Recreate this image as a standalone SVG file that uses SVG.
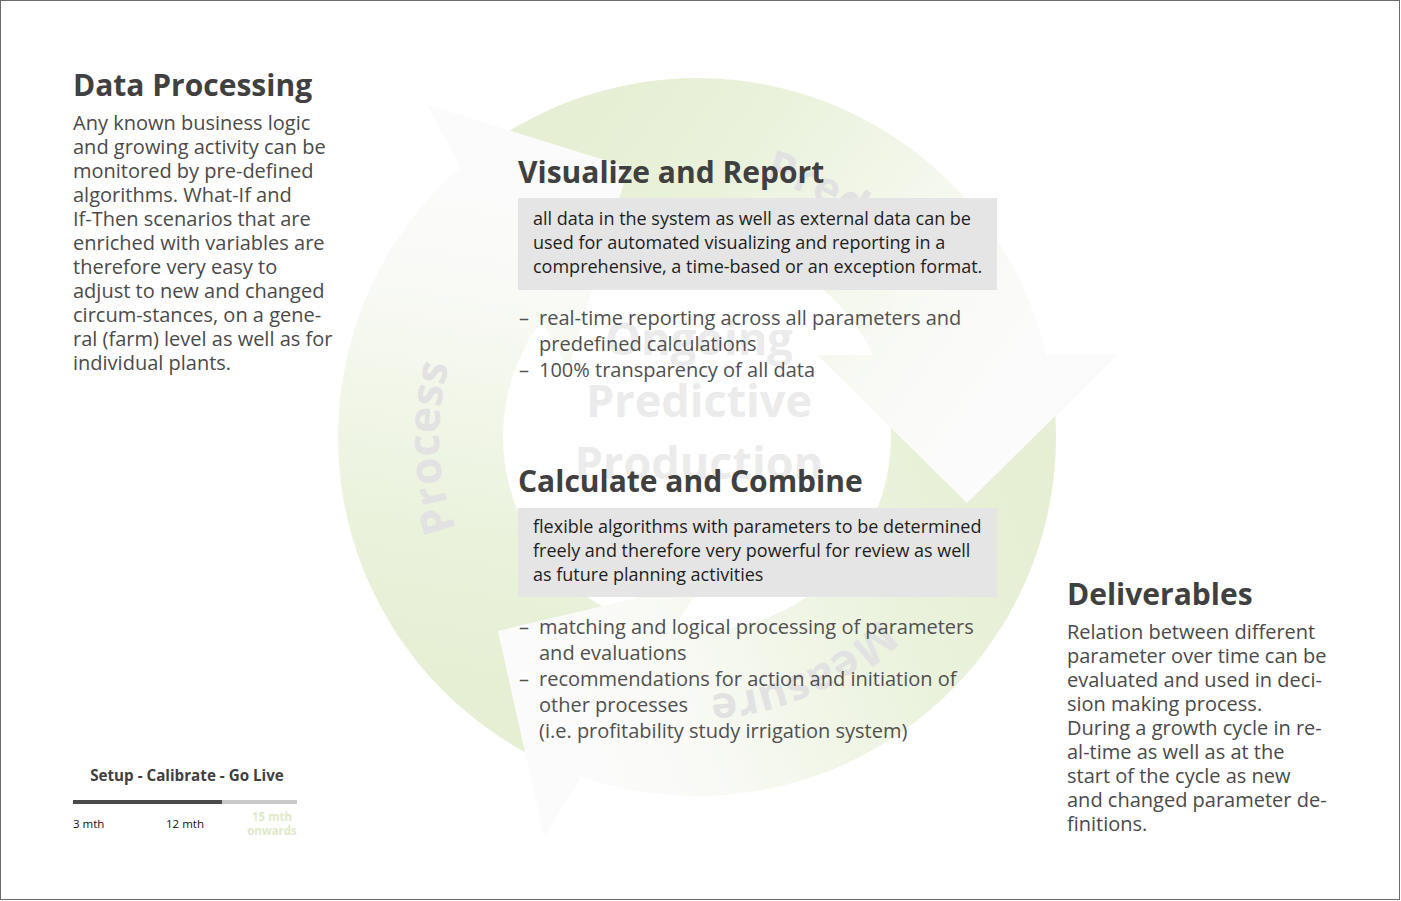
<svg xmlns="http://www.w3.org/2000/svg" width="1401" height="901" viewBox="0 0 1401 901">
<defs>
<linearGradient id="arrowGrad" gradientUnits="userSpaceOnUse" x1="560" y1="150" x2="960" y2="450">
<stop offset="0" stop-color="#e6efd3"/>
<stop offset="0.3" stop-color="#eaf2dc"/>
<stop offset="0.6" stop-color="#f3f7eb"/>
<stop offset="0.8" stop-color="#f9faf6"/>
<stop offset="1" stop-color="#fbfbfb"/>
</linearGradient>
<path id="shaft" d="M 486.0 146.6 A 359 359 0 0 1 1047.2 358 L 874.2 358 A 194 194 0 0 0 583.0 280.1 Z"/>
<polygon id="head" points="1117,355 967,503 817,355"/>
<path id="labelCircle" d="M 955 437 A 258 258 0 1 1 439 437 A 258 258 0 1 1 955 437"/>
<path id="labelCircleTop" d="M 963 437 A 266 266 0 1 1 431 437 A 266 266 0 1 1 963 437"/>
</defs>
<style>
.arrow{fill:url(#arrowGrad);}
.lbl{font-family:"Open Sans","Liberation Sans",sans-serif;font-weight:700;font-size:44px;fill:#e2e2e2;}
.center{font-family:"Open Sans","Liberation Sans",sans-serif;font-weight:700;font-size:45px;fill:#ebebeb;text-anchor:middle;}
.h{font-family:"Open Sans","Liberation Sans",sans-serif;font-weight:700;font-size:30px;fill:#404040;}
.body{font-family:"Open Sans","Liberation Sans",sans-serif;font-size:20px;fill:#4a4a4a;}
.box{fill:#e5e5e5;}
.boxt{font-family:"Open Sans","Liberation Sans",sans-serif;font-size:18px;fill:#1e1e1e;}
.bul{font-family:"Open Sans","Liberation Sans",sans-serif;font-size:20px;fill:#505050;}
.small{font-family:"Open Sans","Liberation Sans",sans-serif;font-size:11.5px;fill:#111;}
.tl{font-family:"Open Sans","Liberation Sans",sans-serif;font-weight:700;font-size:11.5px;fill:#dfe9c9;text-anchor:middle;}
</style>
<rect x="0.5" y="0.5" width="1399" height="899" fill="#ffffff" stroke="#6b6b6b" stroke-width="1"/>

<g id="connectors">
<use href="#shaft" class="arrow"/>
<use href="#shaft" class="arrow" transform="rotate(122 697 437)"/>
<use href="#shaft" class="arrow" transform="rotate(242 697 437)"/>
<use href="#head" class="arrow"/>
<use href="#head" class="arrow" transform="rotate(122 697 437)"/>
<use href="#head" class="arrow" transform="rotate(242 697 437)"/>
</g>

<g id="cycle-labels">
<text class="lbl"><textPath href="#labelCircleTop" startOffset="1321">Predict</textPath></text>
<text class="lbl"><textPath href="#labelCircle" startOffset="201">Measure</textPath></text>
<text class="lbl"><textPath href="#labelCircle" startOffset="716">Process</textPath></text>
<text class="center" x="699" y="355">Ongoing</text>
<text class="center" x="699" y="417">Predictive</text>
<text class="center" x="699" y="479">Production</text>
</g>

<g id="data-processing">
<text class="h" x="73" y="96">Data Processing</text>
<text class="body" x="73" y="130">Any known business logic</text>
<text class="body" x="73" y="154">and growing activity can be</text>
<text class="body" x="73" y="178">monitored by pre-defined</text>
<text class="body" x="73" y="202">algorithms. What-If and</text>
<text class="body" x="73" y="226">If-Then scenarios that are</text>
<text class="body" x="73" y="250">enriched with variables are</text>
<text class="body" x="73" y="274">therefore very easy to</text>
<text class="body" x="73" y="298">adjust to new and changed</text>
<text class="body" x="73" y="322">circum-stances, on a gene-</text>
<text class="body" x="73" y="346">ral (farm) level as well as for</text>
<text class="body" x="73" y="370">individual plants.</text>
</g>

<g id="visualize-report">
<text class="h" x="518" y="183">Visualize and Report</text>
<rect class="box" x="518" y="198" width="479" height="92"/>
<text class="boxt" x="533" y="225">all data in the system as well as external data can be</text>
<text class="boxt" x="533" y="249">used for automated visualizing and reporting in a</text>
<text class="boxt" x="533" y="273">comprehensive, a time-based or an exception format.</text>
<text class="bul" x="519" y="325">–</text>
<text class="bul" x="539" y="325">real-time reporting across all parameters and</text>
<text class="bul" x="539" y="351">predefined calculations</text>
<text class="bul" x="519" y="377">–</text>
<text class="bul" x="539" y="377">100% transparency of all data</text>
</g>

<g id="calculate-combine">
<text class="h" x="518" y="492">Calculate and Combine</text>
<rect class="box" x="518" y="508" width="479" height="89"/>
<text class="boxt" x="533" y="533">flexible algorithms with parameters to be determined</text>
<text class="boxt" x="533" y="557">freely and therefore very powerful for review as well</text>
<text class="boxt" x="533" y="581">as future planning activities</text>
<text class="bul" x="519" y="634">–</text>
<text class="bul" x="539" y="634">matching and logical processing of parameters</text>
<text class="bul" x="539" y="660">and evaluations</text>
<text class="bul" x="519" y="686">–</text>
<text class="bul" x="539" y="686">recommendations for action and initiation of</text>
<text class="bul" x="539" y="712">other processes</text>
<text class="bul" x="539" y="738">(i.e. profitability study irrigation system)</text>
</g>

<g id="deliverables">
<text class="h" x="1067" y="605">Deliverables</text>
<text class="body" x="1067" y="639">Relation between different</text>
<text class="body" x="1067" y="663">parameter over time can be</text>
<text class="body" x="1067" y="687">evaluated and used in deci-</text>
<text class="body" x="1067" y="711">sion making process.</text>
<text class="body" x="1067" y="735">During a growth cycle in re-</text>
<text class="body" x="1067" y="759">al-time as well as at the</text>
<text class="body" x="1067" y="783">start of the cycle as new</text>
<text class="body" x="1067" y="807">and changed parameter de-</text>
<text class="body" x="1067" y="831">finitions.</text>
</g>

<g id="timeline">
<text x="187" y="781" text-anchor="middle" font-family="Open Sans, Liberation Sans, sans-serif" font-weight="700" font-size="15.2" fill="#404040">Setup - Calibrate - Go Live</text>
<rect x="73" y="800" width="149" height="4" fill="#4a4a4a"/>
<rect x="222" y="800" width="75" height="4" fill="#c8c8c8"/>
<text class="small" x="73" y="828">3 mth</text>
<text class="small" x="166" y="828">12 mth</text>
<text class="tl" x="272" y="821">15 mth</text>
<text class="tl" x="272" y="835">onwards</text>
</g>
</svg>
